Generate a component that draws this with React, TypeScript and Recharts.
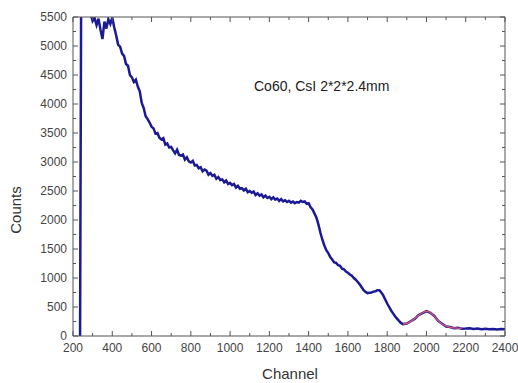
import { LineChart, Line, XAxis, YAxis } from 'recharts'

// Co60 spectrum measured with a CsI 2*2*2.4mm crystal
const channels = [
  236, 242, 250, 260, 270, 280, 290, 300, 310, 320, 330, 340, 350, 360, 370, 380, 390, 400, 410, 420,
  430, 440, 450, 460, 470, 480, 490, 500, 510, 520, 530, 540, 550, 560, 570, 580, 590, 600, 610, 620,
  630, 640, 650, 660, 670, 680, 690, 700, 710, 720, 730, 740, 750, 760, 770, 780, 790, 800, 810, 820,
  830, 840, 850, 860, 870, 880, 890, 900, 910, 920, 930, 940, 950, 960, 970, 980, 990, 1000, 1010, 1020,
  1030, 1040, 1050, 1060, 1070, 1080, 1090, 1100, 1110, 1120, 1130, 1140, 1150, 1160, 1170, 1180, 1190, 1200, 1210, 1220,
  1230, 1240, 1250, 1260, 1270, 1280, 1290, 1300, 1310, 1320, 1330, 1340, 1350, 1360, 1370, 1380, 1390, 1400, 1410, 1420,
  1430, 1440, 1450, 1460, 1470, 1480, 1490, 1500, 1510, 1520, 1530, 1540, 1550, 1560, 1570, 1580, 1590, 1600, 1610, 1620,
  1630, 1640, 1650, 1660, 1670, 1680, 1690, 1700, 1710, 1720, 1730, 1740, 1750, 1760, 1770, 1780, 1790, 1800, 1810, 1820,
  1830, 1840, 1850, 1860, 1870, 1880, 1900, 1920, 1940, 1960, 1980, 2000, 2020, 2040, 2060, 2080, 2100, 2120, 2140, 2160,
  2180, 2200, 2220, 2240, 2260, 2280, 2300, 2320, 2340, 2360, 2380, 2400,
]

const counts = [
  0, 6400, 6200, 5950, 5800, 5650, 5560, 5430, 5480, 5360, 5470, 5280, 5120, 5420, 5300, 5460, 5380, 5490, 5320, 5180,
  5020, 4990, 4870, 4830, 4690, 4660, 4500, 4460, 4380, 4420, 4300, 4220, 4020, 3930, 3790, 3740, 3680, 3610, 3580, 3490,
  3500, 3420, 3390, 3410, 3300, 3320, 3250, 3260, 3200, 3150, 3210, 3120, 3110, 3130, 3040, 3080, 3010, 2990, 3020, 2940,
  2950, 2890, 2910, 2840, 2870, 2850, 2780, 2810, 2760, 2780, 2710, 2740, 2690, 2700, 2650, 2680, 2620, 2640, 2600, 2620,
  2560, 2590, 2540, 2550, 2510, 2540, 2480, 2500, 2470, 2490, 2430, 2460, 2420, 2440, 2390, 2420, 2380, 2400, 2360, 2390,
  2350, 2370, 2330, 2360, 2320, 2340, 2310, 2330, 2300, 2320, 2290, 2310, 2300, 2330, 2310, 2320, 2280, 2290, 2220, 2180,
  2110, 2040, 1920, 1780, 1660, 1560, 1480, 1430, 1360, 1320, 1270, 1260, 1220, 1210, 1160, 1150, 1110, 1090, 1060, 1040,
  1000, 970, 930, 890, 840, 790, 760, 740, 745, 750, 765, 770, 790, 790, 750, 700, 630, 560, 500, 440,
  390, 340, 300, 260, 225, 205, 215, 255, 295, 360, 395, 430, 400, 345, 260, 210, 165, 155, 135, 140,
  125, 128, 135, 120, 130, 118, 125, 115, 122, 112, 120, 115,
]

// gaussian fit of the photopeak region
const fitChannels = [1880, 1900, 1920, 1940, 1960, 1980, 2000, 2020, 2040, 2060, 2080, 2100, 2120, 2140, 2160, 2180]
const fitCounts = [205, 215, 250, 300, 355, 400, 425, 405, 340, 265, 205, 170, 150, 140, 135, 130]

const xTicks = [200, 300, 400, 500, 600, 700, 800, 900, 1000, 1100, 1200, 1300, 1400, 1500, 1600, 1700, 1800, 1900, 2000, 2100, 2200, 2300, 2400]
const yTicks = [0, 250, 500, 750, 1000, 1250, 1500, 1750, 2000, 2250, 2500, 2750, 3000, 3250, 3500, 3750, 4000, 4250, 4500, 4750, 5000, 5250, 5500]

const spectrum = channels.map((ch, i) => ({ channel: ch, counts: counts[i] }))
const fitData = fitChannels.map((ch, i) => ({ channel: ch, fit: fitCounts[i] }))

const AXIS = '#555'
const TEXT = '#444'
const FONT = '"Liberation Sans", Arial, sans-serif'

function BottomTick({ x, y, payload }: any) {
  const major = payload.value % 200 === 0
  return (
    <g>
      <line x1={x} y1={y} x2={x} y2={y - (major ? 5 : 3)} stroke={AXIS} strokeWidth={1} />
      {major && (
        <text x={x} y={y + 16} textAnchor="middle" fill={TEXT} fontSize={12} fontFamily={FONT}>
          {payload.value}
        </text>
      )}
    </g>
  )
}

function TopTick({ x, y, payload }: any) {
  const major = payload.value % 200 === 0
  return <line x1={x} y1={y} x2={x} y2={y + (major ? 5 : 3)} stroke={AXIS} strokeWidth={1} />
}

function LeftTick({ x, y, payload }: any) {
  const major = payload.value % 500 === 0
  return (
    <g>
      <line x1={x} y1={y} x2={x + (major ? 5 : 3)} y2={y} stroke={AXIS} strokeWidth={1} />
      {major && (
        <text x={x - 6} y={y + 4} textAnchor="end" fill={TEXT} fontSize={12} fontFamily={FONT}>
          {payload.value}
        </text>
      )}
    </g>
  )
}

function RightTick({ x, y, payload }: any) {
  const major = payload.value % 500 === 0
  return <line x1={x} y1={y} x2={x - (major ? 5 : 3)} y2={y} stroke={AXIS} strokeWidth={1} />
}

export default function App() {
  return (
    <div style={{ position: 'absolute', left: 0, top: 0, width: 518, height: 383, background: '#fff', fontFamily: FONT }}>
      <LineChart width={518} height={383} margin={{ top: 16, right: 12, bottom: 0, left: 0 }}>
        <XAxis
          dataKey="channel"
          type="number"
          domain={[200, 2400]}
          ticks={xTicks}
          interval={0}
          allowDataOverflow
          height={47}
          tickSize={0}
          tickMargin={0}
          tickLine={false}
          stroke={AXIS}
          tick={<BottomTick />}
        />
        <XAxis
          xAxisId="top"
          dataKey="channel"
          orientation="top"
          type="number"
          domain={[200, 2400]}
          ticks={xTicks}
          interval={0}
          allowDataOverflow
          height={1}
          tickSize={0}
          tickMargin={0}
          tickLine={false}
          stroke={AXIS}
          tick={<TopTick />}
        />
        <YAxis
          type="number"
          domain={[0, 5500]}
          ticks={yTicks}
          interval={0}
          allowDataOverflow
          width={73}
          tickSize={0}
          tickMargin={0}
          tickLine={false}
          stroke={AXIS}
          tick={<LeftTick />}
        />
        <YAxis
          yAxisId="right"
          orientation="right"
          type="number"
          domain={[0, 5500]}
          ticks={yTicks}
          interval={0}
          allowDataOverflow
          width={1}
          tickSize={0}
          tickMargin={0}
          tickLine={false}
          stroke={AXIS}
          tick={<RightTick />}
        />
        <Line
          data={spectrum}
          dataKey="counts"
          type="linear"
          stroke="#1a1a96"
          strokeWidth={2.5}
          dot={false}
          isAnimationActive={false}
        />
        <Line
          data={fitData}
          xAxisId="top"
          yAxisId="right"
          dataKey="fit"
          type="monotone"
          stroke="#c8507a"
          strokeWidth={1.5}
          dot={false}
          isAnimationActive={false}
        />
      </LineChart>
      <div style={{ position: 'absolute', left: 254, top: 76, lineHeight: '20px', fontSize: 14, color: '#222', whiteSpace: 'nowrap' }}>
        Co60, CsI 2*2*2.4mm
      </div>
      <div style={{ position: 'absolute', left: 240, top: 364, width: 100, lineHeight: '20px', fontSize: 15, color: '#333', textAlign: 'center' }}>
        Channel
      </div>
      <div
        style={{
          position: 'absolute',
          left: -24,
          top: 200,
          width: 80,
          lineHeight: '20px',
          fontSize: 15,
          color: '#333',
          textAlign: 'center',
          transform: 'rotate(-90deg)',
        }}
      >
        Counts
      </div>
    </div>
  )
}
